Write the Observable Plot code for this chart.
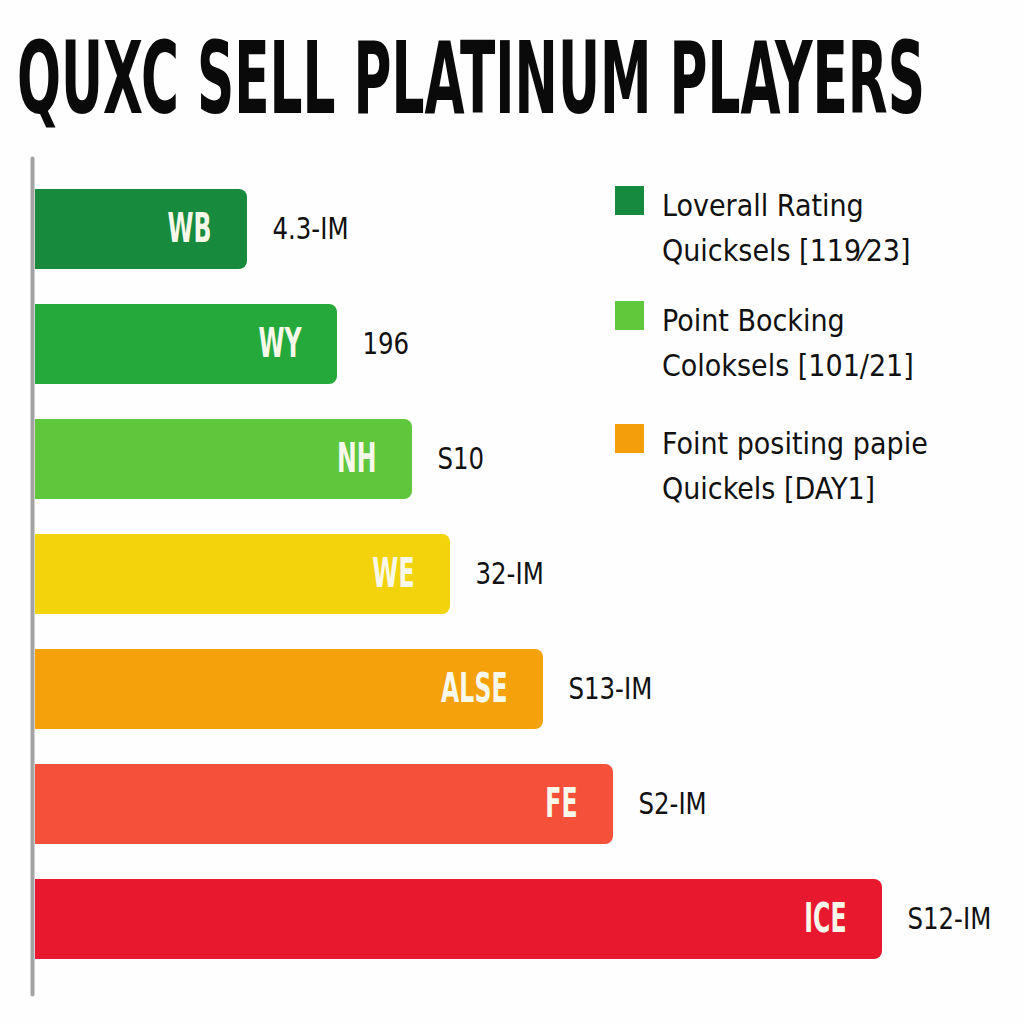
<!DOCTYPE html>
<html>
<head>
<meta charset="utf-8">
<script src="https://cdn.jsdelivr.net/npm/d3@7"></script>
<script src="https://cdn.jsdelivr.net/npm/@observablehq/plot@0.6"></script>
<style>
  html, body { margin: 0; padding: 0; background: #fefefe; }
  #wrap { position: relative; width: 1024px; height: 1024px; overflow: hidden; }
  #title { position: relative; height: 150px; }
  #title span {
    position: absolute; left: 17px; top: 29px; white-space: nowrap;
    font-family: "Liberation Sans Narrow", "DejaVu Sans Condensed", sans-serif;
    font-weight: 700; font-size: 99px; line-height: 1; color: #0a0a0a;
    transform-origin: 0 0; display: inline-block;
  }
  #legend { position: absolute; left: 0; top: 0; }
  .item { position: absolute; left: 615px; }
  .sw { position: absolute; left: 0; top: 3.5px; width: 29px; height: 29px; }
  .txt { position: absolute; left: 47px; top: 0; white-space: nowrap;
    font-family: "DejaVu Sans Condensed", "Liberation Sans Narrow", sans-serif;
    font-size: 30px; line-height: 45px; color: #111; }
</style>
</head>
<body>
<div id="wrap">
  <div id="title"><span id="titleText"></span></div>
  <div id="chart"></div>
  <div id="legend"></div>
</div>
<script>
const titleText = "QUXC SELL PLATINUM PLAYERS";
const categories = ["WB", "WY", "NH", "WE", "ALSE", "FE", "ICE"];
const barValues = [212, 302, 377, 415, 508, 578, 847];
const valueLabels = ["4.3-IM", "196", "S10", "32-IM", "S13-IM", "S2-IM", "S12-IM"];
const barColors = ["#188a3d", "#25a93b", "#5ec73b", "#f2d30c", "#f5a10b", "#f5503a", "#e8192f"];
const legendLine1 = ["Loverall Rating", "Point Bocking", "Foint positing papie"];
const legendLine2 = ["Quicksels [119⁄23]", "Coloksels [101/21]", "Quickels [DAY1]"];
const legendColors = ["#168a3e", "#5fc83b", "#f59e0c"];

// title
const tEl = document.getElementById("titleText");
tEl.textContent = titleText;
const tw = tEl.getBoundingClientRect().width;
tEl.style.transform = `scaleX(${908 / tw})`;

const data = categories.map((c, i) => ({cat: c, v: barValues[i], label: valueLabels[i], color: barColors[i]}));

const chart = Plot.plot({
  width: 1024,
  height: 874,
  marginLeft: 35,
  marginRight: 0,
  marginTop: 1.5,
  marginBottom: 28.5,
  style: {background: "transparent", fontFamily: "'DejaVu Sans Condensed', sans-serif"},
  x: {domain: [0, 989], axis: null},
  y: {domain: categories, padding: 0.307, axis: null},
  marks: [
    Plot.barX(data, {x: "v", y: "cat", fill: "color", rx: 8}),
    Plot.barX(data, {x1: 0, x2: d => d.v - 12, y: "cat", fill: "color"}),
    Plot.ruleX([0], {dx: -3, stroke: "#a3a3a3", strokeWidth: 4, strokeLinecap: "round", insetTop: 7, insetBottom: 1}),
    Plot.text(data, {x: "v", y: "cat", text: "cat", dx: -36, textAnchor: "end", fill: "#f7f7ea", fontSize: 40, fontWeight: 600}),
    Plot.text(data, {x: "v", y: "cat", text: "label", dx: 25, textAnchor: "start", fill: "#111", fontSize: 31})
  ]
});
document.getElementById("chart").appendChild(chart);

// condense SVG labels to the reference's narrow lettering
function squish(nodes, refText, targetW) {
  const ref = nodes.find(n => n.textContent === refText);
  const f = targetW / ref.getComputedTextLength();
  nodes.forEach(n => {
    const L = n.getComputedTextLength();
    n.setAttribute("textLength", L * f);
    n.setAttribute("lengthAdjust", "spacingAndGlyphs");
  });
}
const allText = Array.from(chart.querySelectorAll("text"));
squish(allText.filter(n => categories.includes(n.textContent)), "WB", 44);
squish(allText.filter(n => valueLabels.includes(n.textContent)), "4.3-IM", 76);

// legend
const legend = d3.select("#legend");
const tops = [182.5, 297.5, 420.5];
legendLine1.forEach((l, i) => {
  const item = legend.append("div").attr("class", "item").style("top", tops[i] + "px");
  item.append("div").attr("class", "sw").style("background", legendColors[i]);
  const t = item.append("div").attr("class", "txt");
  t.append("div").text(l);
  t.append("div").text(legendLine2[i]);
});
</script>
</body>
</html>
